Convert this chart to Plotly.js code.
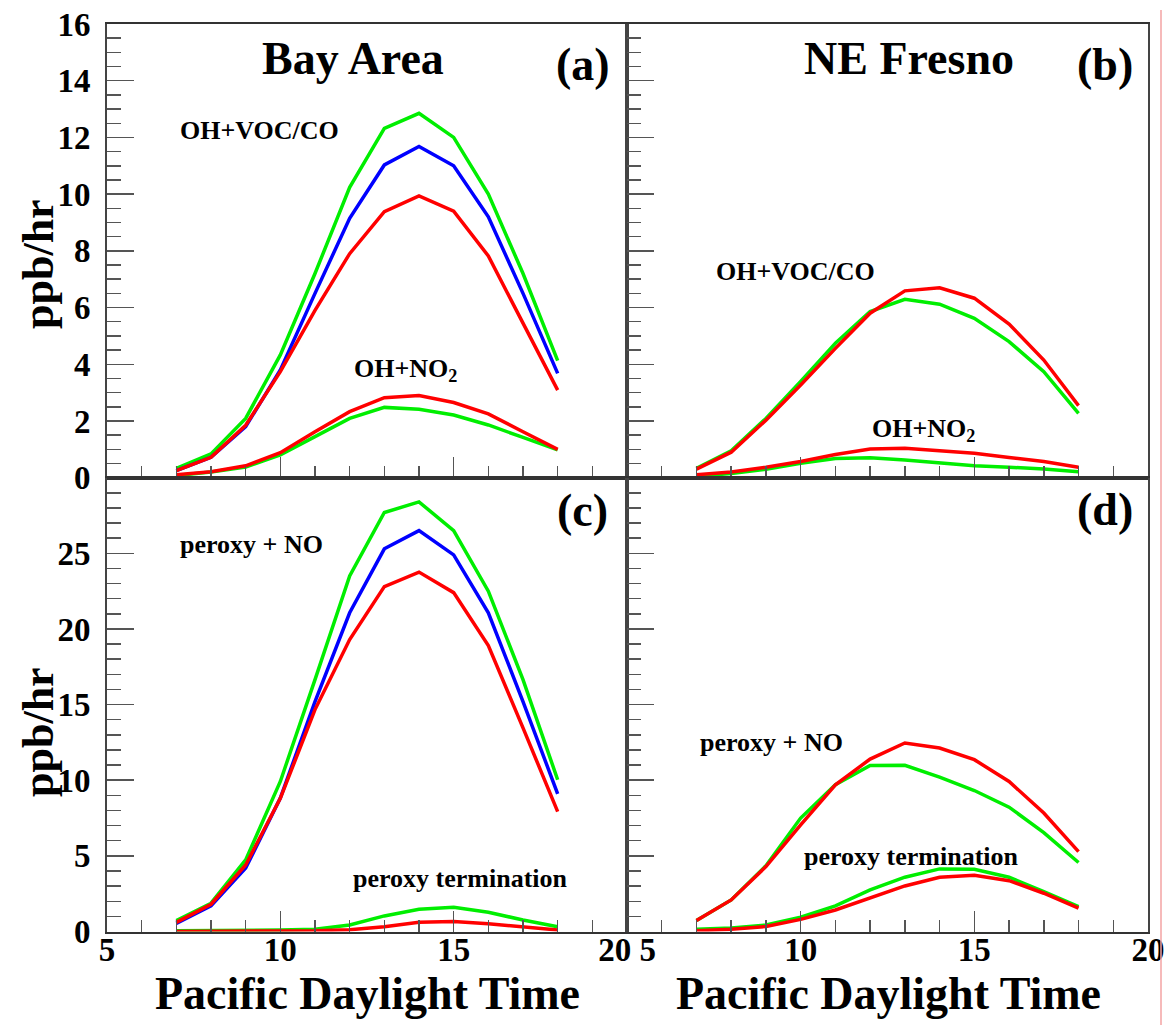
<!DOCTYPE html>
<html>
<head>
<meta charset="utf-8">
<script src="https://cdn.plot.ly/plotly-3.0.1.min.js"></script>
<style>
  html, body { margin: 0; padding: 0; background: #fff; }
  #chart { width: 1164px; height: 1025px; }
</style>
</head>
<body>
<div id="chart"></div>
<script>
// ---------------- data ----------------
var hours = [7, 8, 9, 10, 11, 12, 13, 14, 15, 16, 17, 18];

// (a) Bay Area, OH reactions
var bayOhVocGreen = [0.33, 0.84, 2.09, 4.33, 7.2, 10.24, 12.32, 12.85, 12.0, 10.0, 7.2, 4.13];
var bayOhVocBlue  = [0.25, 0.72, 1.8, 3.8, 6.5, 9.15, 11.03, 11.68, 11.0, 9.2, 6.5, 3.68];
var bayOhVocRed   = [0.25, 0.72, 1.85, 3.74, 5.9, 7.9, 9.38, 9.94, 9.4, 7.82, 5.45, 3.09];
var bayOhNo2Green = [0.08, 0.2, 0.38, 0.8, 1.45, 2.09, 2.48, 2.41, 2.21, 1.86, 1.42, 0.98];
var bayOhNo2Red   = [0.1, 0.21, 0.42, 0.88, 1.62, 2.33, 2.82, 2.9, 2.65, 2.25, 1.62, 1.0];

// (b) NE Fresno, OH reactions
var fresOhVocGreen = [0.33, 0.95, 2.09, 3.39, 4.74, 5.86, 6.29, 6.12, 5.62, 4.8, 3.74, 2.27];
var fresOhVocRed   = [0.3, 0.9, 2.03, 3.27, 4.56, 5.8, 6.59, 6.7, 6.33, 5.42, 4.15, 2.54];
var fresOhNo2Green = [0.05, 0.15, 0.3, 0.51, 0.68, 0.7, 0.62, 0.51, 0.42, 0.37, 0.31, 0.21];
var fresOhNo2Red   = [0.1, 0.2, 0.37, 0.57, 0.82, 1.01, 1.04, 0.95, 0.86, 0.71, 0.57, 0.37];

// (c) Bay Area, peroxy reactions
var bayPerNoGreen = [0.72, 1.87, 4.73, 9.92, 16.65, 23.5, 27.7, 28.4, 26.5, 22.5, 16.65, 10.03];
var bayPerNoBlue  = [0.54, 1.69, 4.19, 8.82, 15.2, 21.07, 25.3, 26.5, 24.9, 21.07, 15.2, 9.1];
var bayPerNoRed   = [0.6, 1.8, 4.4, 8.8, 14.67, 19.3, 22.8, 23.76, 22.4, 18.9, 13.46, 7.93];
var bayPerTermGreen = [0.05, 0.05, 0.07, 0.1, 0.15, 0.43, 1.03, 1.47, 1.6, 1.27, 0.76, 0.32];
var bayPerTermRed   = [0.0, 0.0, 0.02, 0.03, 0.05, 0.12, 0.32, 0.61, 0.66, 0.51, 0.29, 0.1];

// (d) NE Fresno, peroxy reactions
var fresPerNoGreen = [0.72, 2.09, 4.35, 7.5, 9.7, 10.98, 10.99, 10.2, 9.32, 8.22, 6.54, 4.56];
var fresPerNoRed   = [0.72, 2.09, 4.29, 7.05, 9.7, 11.4, 12.46, 12.13, 11.36, 9.92, 7.83, 5.28];
var fresPerTermGreen = [0.15, 0.23, 0.43, 0.94, 1.69, 2.75, 3.59, 4.14, 4.12, 3.59, 2.64, 1.64];
var fresPerTermRed   = [0.05, 0.15, 0.33, 0.8, 1.42, 2.2, 3.01, 3.59, 3.72, 3.36, 2.53, 1.54];

// ticks and labels
var xTickVals = [5, 10, 15, 20];
var xTickText = ['5', '10', '15', '20'];
var yTopTickVals = [0, 2, 4, 6, 8, 10, 12, 14, 16];
var yBotTickVals = [0, 5, 10, 15, 20, 25];

var panelTitles = ['Bay Area', 'NE Fresno'];
var panelLetters = ['(a)', '(b)', '(c)', '(d)'];
var xTitle = 'Pacific Daylight Time';
var yTitle = 'ppb/hr';

// ---------------- styling ----------------
var W = 1164, H = 1025;
var GREEN = '#00ee00', BLUE = '#0000ff', RED = '#ff0000';
var LW = 3.5;
var FONT = 'Liberation Serif, Times New Roman, serif';

function px2x(p) { return p / W; }
function px2y(p) { return 1 - p / H; }

var xDomL = [px2x(107), px2x(627)];
var xDomR = [px2x(627), px2x(1148)];
var yDomT = [px2y(477.7), px2y(24)];
var yDomB = [px2y(931.5), px2y(477.7)];

function line(x, y, color, xa, ya) {
  return { x: x, y: y, type: 'scatter', mode: 'lines', xaxis: xa, yaxis: ya,
           line: { color: color, width: LW }, hoverinfo: 'skip', showlegend: false };
}

var data = [
  line(hours, bayOhVocGreen, GREEN, 'x', 'y'),
  line(hours, bayOhVocBlue, BLUE, 'x', 'y'),
  line(hours, bayOhVocRed, RED, 'x', 'y'),
  line(hours, bayOhNo2Green, GREEN, 'x', 'y'),
  line(hours, bayOhNo2Red, RED, 'x', 'y'),

  line(hours, fresOhVocGreen, GREEN, 'x2', 'y2'),
  line(hours, fresOhVocRed, RED, 'x2', 'y2'),
  line(hours, fresOhNo2Green, GREEN, 'x2', 'y2'),
  line(hours, fresOhNo2Red, RED, 'x2', 'y2'),

  line(hours, bayPerNoGreen, GREEN, 'x3', 'y3'),
  line(hours, bayPerNoBlue, BLUE, 'x3', 'y3'),
  line(hours, bayPerNoRed, RED, 'x3', 'y3'),
  line(hours, bayPerTermGreen, GREEN, 'x3', 'y3'),
  line(hours, bayPerTermRed, RED, 'x3', 'y3'),

  line(hours, fresPerNoGreen, GREEN, 'x4', 'y4'),
  line(hours, fresPerNoRed, RED, 'x4', 'y4'),
  line(hours, fresPerTermGreen, GREEN, 'x4', 'y4'),
  line(hours, fresPerTermRed, RED, 'x4', 'y4')
];

var tickFont = { family: FONT, size: 33, color: '#000', weight: 'bold' };

function xAxis(domain, anchor, labels, text) {
  return {
    domain: domain, anchor: anchor, range: [5, 20], fixedrange: true,
    tickmode: 'array', tickvals: xTickVals, ticktext: text,
    showticklabels: labels, tickfont: tickFont,
    ticklabeloverflow: 'allow', ticklabelstandoff: -12,
    ticks: 'inside', ticklen: 21, tickwidth: 1.5, tickcolor: '#555',
    minor: { tickmode: 'linear', tick0: 5, dtick: 1, ticks: 'inside', ticklen: 12,
             tickwidth: 1.5, tickcolor: '#555', showgrid: false },
    showline: true, mirror: true, linecolor: '#333', linewidth: 2,
    showgrid: false, zeroline: false
  };
}
function yAxis(domain, anchor, range, vals, minorD, labels) {
  return {
    domain: domain, anchor: anchor, range: range, fixedrange: true,
    tickmode: 'array', tickvals: vals, showticklabels: labels, tickfont: tickFont,
    ticks: 'inside', ticklen: 27, tickwidth: 1.5, tickcolor: '#555',
    ticklabelstandoff: 8, ticklabeloverflow: 'allow',
    minor: { tickmode: 'linear', tick0: 0, dtick: minorD, ticks: 'inside', ticklen: 14,
             tickwidth: 1.5, tickcolor: '#555', showgrid: false },
    showline: true, mirror: true, linecolor: '#444', linewidth: 2,
    showgrid: false, zeroline: false
  };
}

// shift the adjoining "20" / "5" labels apart
var NB = '\u00a0';
var xTextLeft = xTickText.map(function (t, i) { return i === xTickText.length - 1 ? t + NB + NB + NB : t; });
var xTextRight = xTickText.map(function (t, i) { return i === 0 ? NB + NB + NB + NB + NB + t : t; });

var annFont = { family: FONT, size: 26, color: '#000', weight: 'bold' };
var titleFont = { family: FONT, size: 46, color: '#000', weight: 'bold' };

function ann(text, x, y, xr, yr, font, xanchor) {
  return { text: text, x: x, y: y, xref: xr, yref: yr, showarrow: false,
           xanchor: xanchor || 'center', yanchor: 'middle', font: font };
}

var annotations = [
  ann(panelTitles[0], 12.1, 14.8, 'x', 'y', titleFont),
  ann(panelTitles[1], 13.13, 14.8, 'x2', 'y2', titleFont),
  ann(panelLetters[0], 19.57, 14.56, 'x', 'y', titleFont, 'right'),
  ann(panelLetters[1], 19.62, 14.56, 'x2', 'y2', titleFont, 'right'),
  ann(panelLetters[2], 19.5, 27.85, 'x3', 'y3', titleFont, 'right'),
  ann(panelLetters[3], 19.62, 27.9, 'x4', 'y4', titleFont, 'right'),

  ann('OH+VOC/CO', 9.41, 12.26, 'x', 'y', annFont),
  ann('OH+NO<sub>2</sub>', 13.6, 3.8, 'x', 'y', annFont),
  ann('OH+VOC/CO', 9.85, 7.28, 'x2', 'y2', annFont),
  ann('OH+NO<sub>2</sub>', 13.54, 1.68, 'x2', 'y2', annFont),
  ann('peroxy + NO', 9.18, 25.6, 'x3', 'y3', annFont),
  ann('peroxy termination', 15.2, 3.48, 'x3', 'y3', annFont),
  ann('peroxy + NO', 9.15, 12.48, 'x4', 'y4', annFont),
  ann('peroxy termination', 13.2, 4.93, 'x4', 'y4', annFont),

  { text: yTitle, x: px2x(38), y: px2y(264), xref: 'paper', yref: 'paper', showarrow: false,
    textangle: -90, xanchor: 'center', yanchor: 'middle',
    font: { family: FONT, size: 44, color: '#000', weight: 'bold' } },
  { text: yTitle, x: px2x(38), y: px2y(732), xref: 'paper', yref: 'paper', showarrow: false,
    textangle: -90, xanchor: 'center', yanchor: 'middle',
    font: { family: FONT, size: 44, color: '#000', weight: 'bold' } },
  { text: xTitle, x: px2x(367), y: px2y(993), xref: 'paper', yref: 'paper', showarrow: false,
    xanchor: 'center', yanchor: 'middle', font: titleFont },
  { text: xTitle, x: px2x(888), y: px2y(993), xref: 'paper', yref: 'paper', showarrow: false,
    xanchor: 'center', yanchor: 'middle', font: titleFont }
];

var layout = {
  width: W, height: H,
  margin: { l: 0, r: 0, t: 0, b: 0 },
  paper_bgcolor: '#fff', plot_bgcolor: '#fff',
  showlegend: false,
  xaxis: xAxis(xDomL, 'y', false, xTickText),
  yaxis: yAxis(yDomT, 'x', [0, 16], yTopTickVals, 0.5, true),
  xaxis2: xAxis(xDomR, 'y2', false, xTickText),
  yaxis2: yAxis(yDomT, 'x2', [0, 16], yTopTickVals, 0.5, false),
  xaxis3: xAxis(xDomL, 'y3', true, xTextLeft),
  yaxis3: yAxis(yDomB, 'x3', [0, 30], yBotTickVals, 1, true),
  xaxis4: xAxis(xDomR, 'y4', true, xTextRight),
  yaxis4: yAxis(yDomB, 'x4', [0, 30], yBotTickVals, 1, false),
  annotations: annotations,
  shapes: [
    { type: 'line', xref: 'paper', yref: 'paper', x0: px2x(1161), x1: px2x(1161),
      y0: px2y(10), y1: 0, line: { color: '#f3a3a3', width: 1.5 } }
  ]
};

Plotly.newPlot('chart', data, layout, { displayModeBar: false, staticPlot: true });
</script>
</body>
</html>
